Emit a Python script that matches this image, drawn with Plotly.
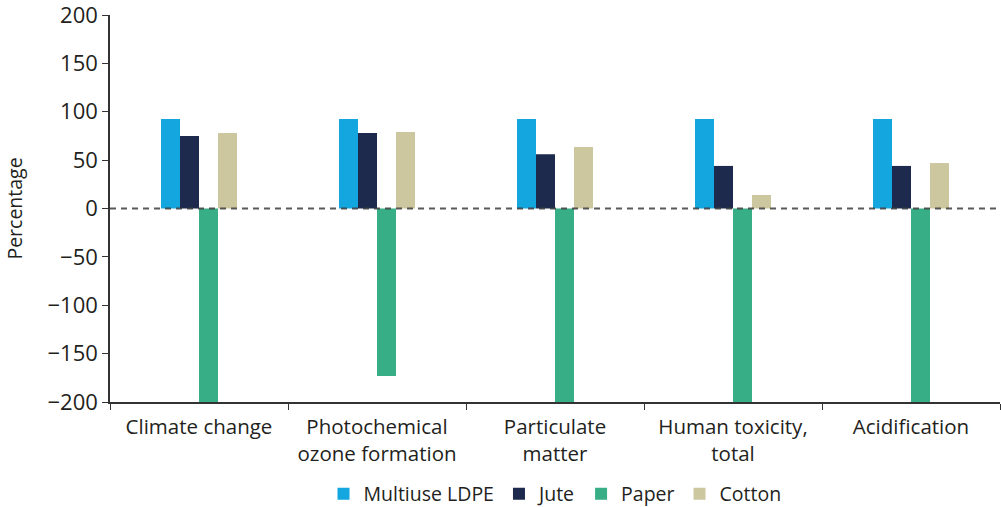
import plotly.graph_objects as go

categories = ["Climate change", "Photochemical<br>ozone formation", "Particulate<br>matter",
              "Human toxicity,<br>total", "Acidification"]
ldpe = [92.5, 92.5, 92.5, 92.5, 92.5]
jute = [75, 78, 56, 44, 44]
paper = [-200, -173, -200, -200, -200]
cotton = [78, 79, 63.5, 14, 47]
y_ticks = [-200, -150, -100, -50, 0, 50, 100, 150, 200]

series = [("Multiuse LDPE", ldpe, "#13A6DF"), ("Jute", jute, "#1D2A4D"),
          ("Paper", paper, "#37AE86"), ("Cotton", cotton, "#CDC79F")]

FONT = "Open Sans"
fig = go.Figure()
for name, vals, col in series:
    fig.add_trace(go.Bar(x=categories, y=vals, name=name, marker_color=col,
                         marker_line_width=0))

fig.add_shape(type="line", xref="paper", yref="y", x0=0, x1=1, y0=0, y1=0,
              line=dict(color="rgba(60,60,60,0.85)", width=2, dash="6px,5px"), layer="above")

fig.update_layout(
    width=1001, height=507,
    margin=dict(l=110, r=1, t=15, b=105, autoexpand=False),
    plot_bgcolor="white", paper_bgcolor="white",
    barmode="group", bargap=0.573, bargroupgap=0,
    font=dict(family=FONT, size=20, color="#231F20"),
    legend=dict(orientation="h", x=0.5, xanchor="center", y=-0.238, yanchor="middle",
                font=dict(size=19.5), itemwidth=30, traceorder="normal"),
    showlegend=True,
)
fig.update_xaxes(showline=True, linecolor="#333", linewidth=1.5, ticks="outside",
                 tickson="boundaries", ticklen=6, tickcolor="#333", showgrid=False,
                 tickfont=dict(size=20.5), automargin=False, ticklabelstandoff=6)
fig.update_yaxes(range=[-200, 200], tickvals=y_ticks, showline=True, linecolor="#333",
                 linewidth=1.5, ticks="outside", ticklen=6, tickcolor="#333",
                 showgrid=False, zeroline=False, tickfont=dict(size=22), automargin=False,
                 ticklabeloverflow="allow",
                 title=dict(text="Percentage", font=dict(size=19.5), standoff=20))

fig.write_html("out.html", config={"displayModeBar": False},
               post_script="document.body.style.margin='0';")
